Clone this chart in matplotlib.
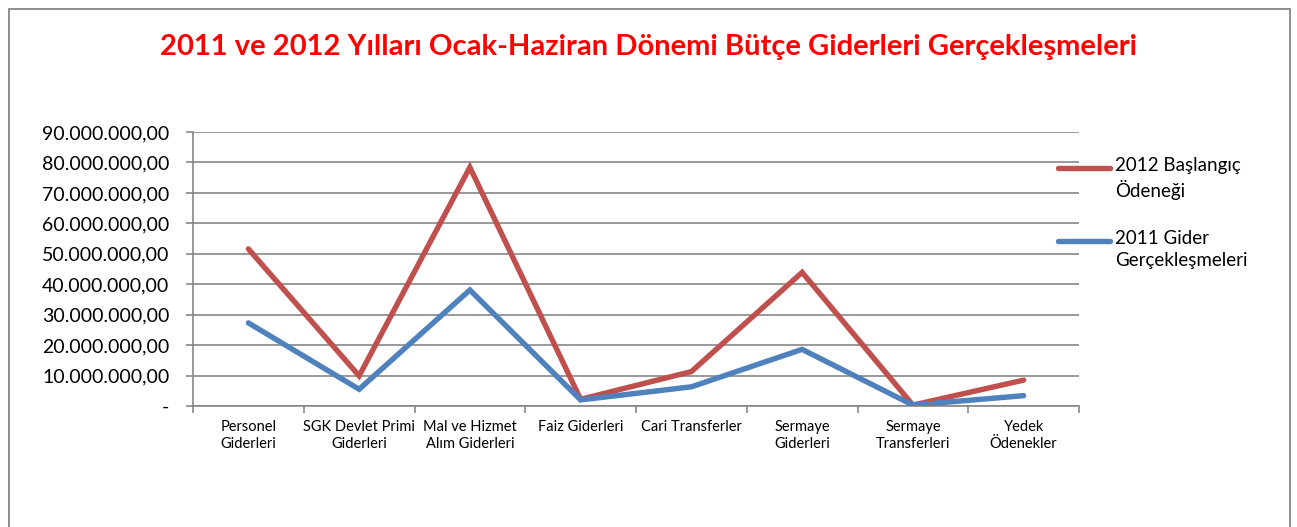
import matplotlib
matplotlib.use("Agg")
import matplotlib.pyplot as plt
from matplotlib.lines import Line2D
from matplotlib.patches import Rectangle
from matplotlib.ticker import FuncFormatter

plt.rcParams['font.family'] = ['Lato', 'DejaVu Sans']

categories = ["Personel\nGiderleri", "SGK Devlet Primi\nGiderleri", "Mal ve Hizmet\nAlım Giderleri",
              "Faiz Giderleri", "Cari Transferler", "Sermaye\nGiderleri", "Sermaye\nTransferleri",
              "Yedek\nÖdenekler"]
baslangic_2012 = [51.6e6, 9.9e6, 78.4e6, 2.2e6, 11.3e6, 43.9e6, 0.3e6, 8.5e6]
gider_2011 = [27.3e6, 5.5e6, 38.1e6, 2.0e6, 6.3e6, 18.6e6, 0.3e6, 3.4e6]
series_labels = ["2012 Başlangıç\nÖdeneği", "2011 Gider\nGerçekleşmeleri"]
series_colors = ["#C0504D", "#4F81BD"]
y_ticks = [i * 10e6 for i in range(10)]

W, H = 1297, 527
fig = plt.figure(figsize=(W / 100, H / 100), dpi=100, facecolor='white')
ax = fig.add_axes([193 / W, 1 - 406 / H, (1079 - 193) / W, (406 - 132) / H])

# outer chart frame
fig.add_artist(Rectangle((9 / W, -0.05), (1290 - 9) / W, 1.05 - 9 / H, transform=fig.transFigure,
                         fill=False, edgecolor='#868686', linewidth=1.3))

xs = [i + 0.5 for i in range(len(categories))]
for vals, col in zip([baslangic_2012, gider_2011], series_colors):
    ax.plot(xs, vals, color=col, linewidth=3.9, solid_capstyle='round', solid_joinstyle='miter', zorder=3)

ax.set_xlim(0, len(categories))
ax.set_ylim(0, 90e6)
ax.set_yticks(y_ticks)
ax.yaxis.set_major_formatter(FuncFormatter(
    lambda v, p: "-" if v == 0 else f"{v:,.2f}".replace(",", "X").replace(".", ",").replace("X", ".")))
ax.grid(axis='y', color='#878787', linewidth=1.2)
ax.set_axisbelow(True)

ax.set_xticks(range(len(categories) + 1))
ax.set_xticklabels([])
ax.set_xticks(xs, minor=True)
ax.set_xticklabels(categories, minor=True, fontsize=10.5, linespacing=1.3)
ax.tick_params(axis='x', which='minor', length=0, pad=10)
ax.tick_params(axis='x', which='major', length=5, color='#878787', width=1.2)
ax.tick_params(axis='y', length=5, color='#878787', width=1.2, labelsize=14, pad=12)

for s in ['top', 'right']:
    ax.spines[s].set_visible(False)
for s in ['left', 'bottom']:
    ax.spines[s].set_color('#878787')
    ax.spines[s].set_linewidth(1.2)

fig.text(0.5, 1 - 47 / H, "2011 ve 2012 Yılları Ocak-Haziran Dönemi Bütçe Giderleri Gerçekleşmeleri",
         color='#FF0000', fontsize=21, fontweight='bold', ha='center', va='center')

# legend, drawn by hand so the handle sits on the first text line
for i, (lab, col) in enumerate(zip(series_labels, series_colors)):
    yy = 1 - (168 + 73 * i) / H
    fig.add_artist(Line2D([1058 / W, 1110 / W], [yy, yy], color=col, linewidth=3.9,
                          solid_capstyle='round', transform=fig.transFigure))
    fig.text(1115 / W, yy + 11 / H, lab, fontsize=13.5, ha='left', va='top', linespacing=1.35)

fig.savefig("out.png", dpi=100, facecolor='white')
